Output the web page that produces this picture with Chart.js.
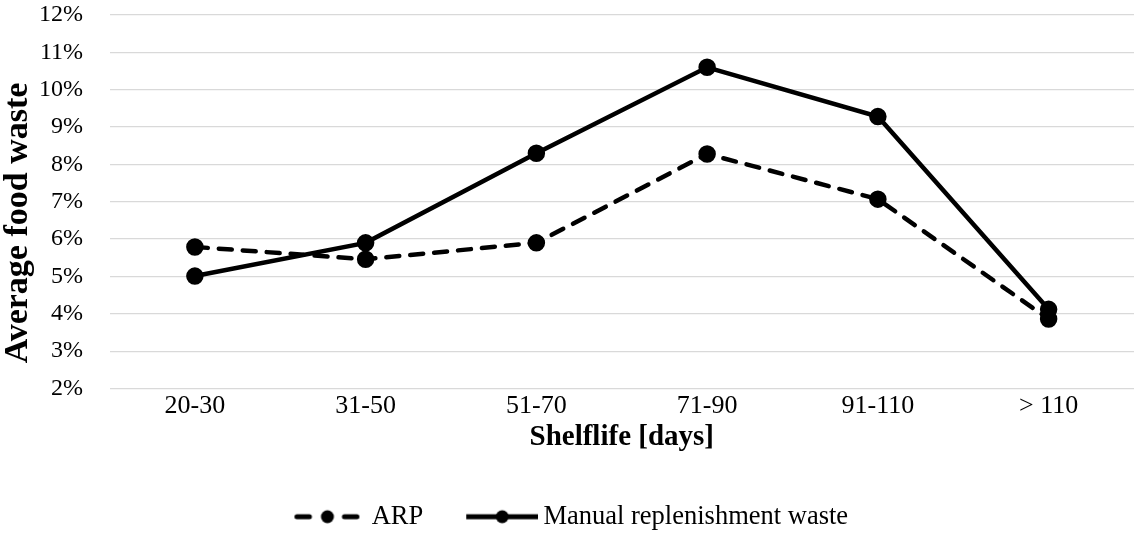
<!DOCTYPE html>
<html>
<head>
<meta charset="utf-8">
<script src="https://cdn.jsdelivr.net/npm/chart.js@4.4.1/dist/chart.umd.min.js"></script>
<style>
  html, body { margin: 0; padding: 0; background: #fff; }
  #wrap { width: 1145px; height: 547px; }
</style>
</head>
<body>
<div id="wrap"><canvas id="myChart"></canvas></div>
<script>
var categories = ['20-30', '31-50', '51-70', '71-90', '91-110', '> 110'];
var arpValues = [5.79, 5.46, 5.9, 8.28, 7.07, 3.86];
var manualValues = [5.01, 5.9, 8.3, 10.6, 9.28, 4.12];
var seriesNames = ['ARP', 'Manual replenishment waste'];

var serif = "'Liberation Serif', 'Times New Roman', serif";

// legend marker: line with a dot in the middle (canvas wider than the box on purpose)
function legendMarker(dashed) {
  var c = document.createElement('canvas');
  c.width = 88;
  c.height = 16;
  var g = c.getContext('2d');
  g.strokeStyle = '#000';
  g.fillStyle = '#000';
  g.lineWidth = 5;
  g.beginPath();
  if (dashed) {
    g.lineCap = 'round';
    g.moveTo(18.5, 8); g.lineTo(31, 8);
    g.moveTo(66, 8); g.lineTo(78.5, 8);
  } else {
    g.moveTo(16, 8); g.lineTo(88, 8);
  }
  g.stroke();
  g.beginPath();
  g.arc(dashed ? 49 : 52, 8, 6.5, 0, Math.PI * 2);
  g.fill();
  return c;
}

// nudge legend a few px to the left, like the original
var legendShift = {
  id: 'legendShift',
  afterLayout: function(chart) {
    if (chart.legend) {
      chart.legend.left -= 6;
      chart.legend.right -= 6;
    }
  }
};

var ctx = document.getElementById('myChart').getContext('2d');
var myChart = new Chart(ctx, {
  type: 'line',
  data: {
    labels: categories,
    datasets: [{
      label: seriesNames[0],
      data: arpValues,
      borderColor: '#000',
      backgroundColor: '#000',
      borderWidth: 4.5,
      borderDash: [13, 11],
      borderCapStyle: 'round',
      pointRadius: 6.5,
      pointHoverRadius: 6.5,
      legendStyle: legendMarker(true)
    }, {
      label: seriesNames[1],
      data: manualValues,
      borderColor: '#000',
      backgroundColor: '#000',
      borderWidth: 4.5,
      pointRadius: 6.5,
      pointHoverRadius: 6.5,
      legendStyle: legendMarker(false)
    }]
  },
  plugins: [legendShift],
  options: {
    responsive: true,
    maintainAspectRatio: false,
    animation: false,
    layout: {
      padding: { left: 1.5, right: 0, top: 15, bottom: 7 }
    },
    plugins: {
      tooltip: false,
      legend: {
        position: 'bottom',
        labels: {
          usePointStyle: true,
          pointStyleWidth: 72,
          padding: 35,
          color: '#000',
          font: { family: serif, size: 26.5 },
          generateLabels: function(chart) {
            return chart.data.datasets.map(function(ds, i) {
              return {
                text: ds.label,
                pointStyle: ds.legendStyle,
                fontColor: '#000',
                lineWidth: 0,
                strokeStyle: 'transparent',
                fillStyle: 'transparent',
                datasetIndex: i
              };
            });
          }
        }
      }
    },
    scales: {
      x: {
        offset: true,
        grid: { display: false, drawTicks: false },
        border: { display: false },
        afterFit: function(scale) { scale.height = 80; },
        ticks: {
          color: '#000',
          padding: 2.5,
          font: { family: serif, size: 26 }
        },
        title: {
          display: true,
          text: 'Shelflife [days]',
          color: '#000',
          padding: { top: 0, bottom: 16.5 },
          font: { family: serif, size: 29, weight: 'bold', lineHeight: 1 }
        }
      },
      y: {
        min: 2,
        max: 12,
        grid: { color: '#d9d9d9', lineWidth: 1.3, drawTicks: false },
        border: { display: false },
        afterFit: function(scale) {
          scale.width = 108;
          scale.paddingTop = 0;
          scale.paddingBottom = 0;
        },
        ticks: {
          stepSize: 1,
          color: '#000',
          padding: 26.5,
          font: { family: serif, size: 24 },
          callback: function(v) { return v + '%'; }
        },
        title: {
          display: true,
          text: 'Average food waste     ',
          color: '#000',
          padding: { top: 0, bottom: 0 },
          font: { family: serif, size: 34, weight: 'bold', lineHeight: 1 }
        }
      }
    }
  }
});
</script>
</body>
</html>
